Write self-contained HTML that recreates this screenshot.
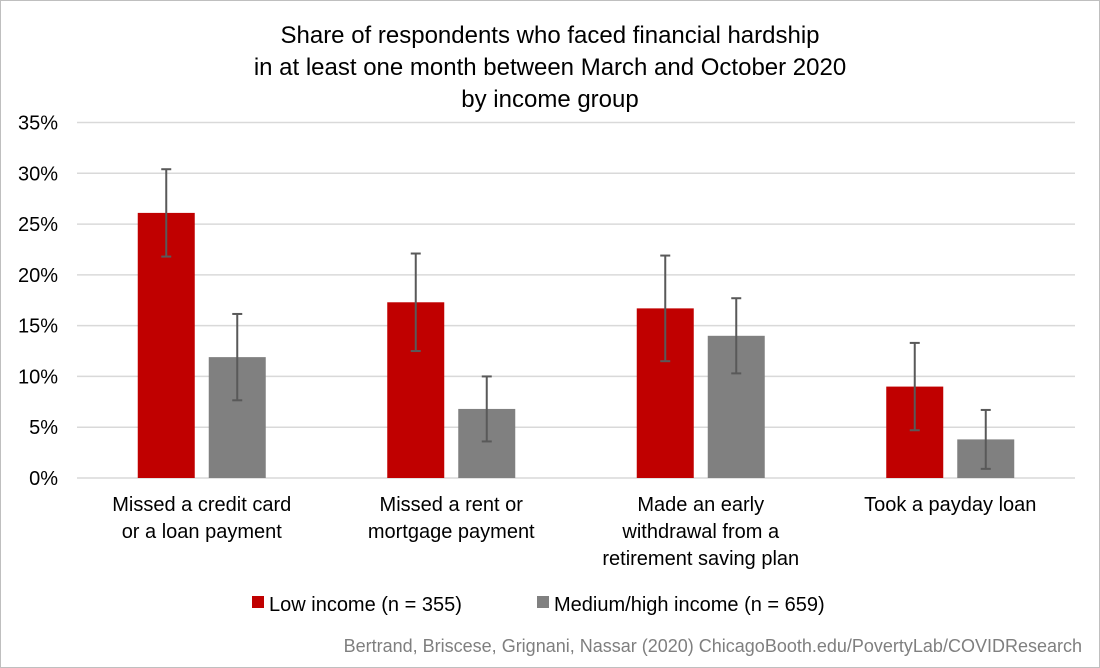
<!DOCTYPE html>
<html><head><meta charset="utf-8"><style>
body{margin:0;background:#fff}
svg{display:block;font-family:"Liberation Sans",Arial,sans-serif}
</style></head><body>
<svg id="chart" width="1100" height="668" viewBox="0 0 1100 668">
<rect x="0.5" y="0.5" width="1099" height="667" fill="#fff" stroke="#bfbfbf"/>
<g font-size="24" fill="#000" text-anchor="middle">
<text x="550" y="43">Share of respondents who faced financial hardship</text>
<text x="550" y="75">in at least one month between March and October 2020</text>
<text x="550" y="107">by income group</text>
</g>
<g id="grid"></g><g id="yticks"></g><g id="bars"></g><g id="cats"></g>
<g font-size="20">
<rect x="252" y="596" width="12" height="12" fill="#c00000"/>
<text x="269" y="611">Low income (n = 355)</text>
<rect x="537" y="596" width="12" height="12" fill="#808080"/>
<text x="554" y="611">Medium/high income (n = 659)</text>
</g>
<text x="1082" y="652" font-size="18" fill="#7f7f7f" text-anchor="end">Bertrand, Briscese, Grignani, Nassar (2020) ChicagoBooth.edu/PovertyLab/COVIDResearch</text>
</svg>
<script>
const categories=[["Missed a credit card","or a loan payment"],["Missed a rent or","mortgage payment"],["Made an early","withdrawal from a","retirement saving plan"],["Took a payday loan"]];
const lowValues=[26.1,17.3,16.7,9.0];
const lowErr=[4.3,4.8,5.2,4.3];
const highValues=[11.9,6.8,14.0,3.8];
const highErr=[4.25,3.2,3.7,2.9];
const yTicks=[0,5,10,15,20,25,30,35];
const NS="http://www.w3.org/2000/svg";
const x0=77,x1=1075,y0=478,y1=122.5,yMax=35;
const y=v=>y0-(v/yMax)*(y0-y1);
const bw=(x1-x0)/categories.length;
function mk(t,a,p){const e=document.createElementNS(NS,t);for(const k in a)e.setAttribute(k,a[k]);p.appendChild(e);return e;}
const grid=document.getElementById('grid'),yt=document.getElementById('yticks'),bars=document.getElementById('bars'),cats=document.getElementById('cats');
yTicks.forEach(t=>{
const l=mk('line',{x1:x0,x2:x1,y1:y(t),y2:y(t),stroke:'#d9d9d9','stroke-width':1.5},grid);


const tx=mk('text',{x:58,y:y(t)+7,'font-size':20,'text-anchor':'end'},yt);
tx.textContent=t+'%';


});
function bar(cx,v,e,col,name){
const r=mk('rect',{x:cx-28.5,y:y(v),width:57,height:y0-y(v),fill:col},bars);


const g=mk('g',{stroke:'#595959','stroke-width':2},bars);


mk('line',{x1:cx,x2:cx,y1:y(v+e),y2:y(Math.max(0,v-e))},g);
mk('line',{x1:cx-5,x2:cx+5,y1:y(v+e),y2:y(v+e)},g);
mk('line',{x1:cx-5,x2:cx+5,y1:y(Math.max(0,v-e)),y2:y(Math.max(0,v-e))},g);
}
categories.forEach((c,i)=>{
const cx=x0+bw*(i+0.5);
bar(cx-35.5,lowValues[i],lowErr[i],'#c00000','bar-low-'+(i+1));
bar(cx+35.5,highValues[i],highErr[i],'#808080','bar-high-'+(i+1));
const t=mk('text',{x:cx,'font-size':20,'text-anchor':'middle'},cats);


c.forEach((ln,j)=>{const s=mk('tspan',{x:cx,y:511+j*27},t);s.textContent=ln;});
});
</script>
</body></html>
